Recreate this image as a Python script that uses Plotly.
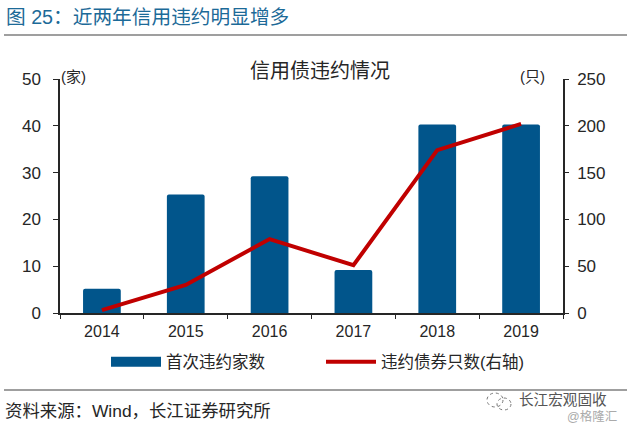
import plotly.graph_objects as go

years = ["2014", "2015", "2016", "2017", "2018", "2019"]
first_defaults = [5.2, 25.3, 29.2, 9.2, 40.3, 40.3]
defaulted_bonds = [3, 30, 79, 51, 174, 202]
left_ticks = [0, 10, 20, 30, 40, 50]
right_ticks = [0, 50, 100, 150, 200, 250]

W, H = 628, 427
L, R, T, B = 60, 563, 79, 313
FONT = "Liberation Sans, Noto Sans CJK SC, sans-serif"
INK = "#262626"

def px(x): return (x - L) / (R - L)
def py(y): return (B - y) / (B - T)

fig = go.Figure()
fig.add_bar(x=years, y=first_defaults, name="首次违约家数", marker=dict(color="#01558b", line=dict(width=0)),
            width=0.45, showlegend=False)
fig.add_scatter(x=[None], y=[None], mode="lines", name="首次违约家数",
                line=dict(color="#01558b", width=14))
fig.add_scatter(x=years, y=defaulted_bonds, yaxis="y2", mode="lines", name="违约债券只数(右轴)",
                line=dict(color="#c00000", width=4))

def txt(x, y, s, size, color=INK, anchor="left"):
    fig.add_annotation(x=px(x), y=py(y), xref="paper", yref="paper", text=s, showarrow=False,
                       xanchor=anchor, yanchor="middle", font=dict(size=size, color=color, family=FONT),
                       borderpad=0, borderwidth=0)

txt(6, 17, "图 25：近两年信用违约明显增多", 19.7, "#1c6a98")
txt(320, 71, "信用债违约情况", 20, INK, "center")
txt(61, 76, "(家)", 15)
txt(520, 76, "(只)", 15)
txt(5, 411, "资料来源：Wind，长江证券研究所", 17.4)
txt(519, 400, "长江宏观固收", 14.6, "#555555")
txt(567, 416, "@格隆汇", 12.5, "#aaaaaa")

for y0 in (35, 390):
    fig.add_shape(type="line", xref="paper", yref="paper", x0=px(4), x1=px(W - 1), y0=py(y0), y1=py(y0),
                  line=dict(color="#404040", width=1.2), layer="above")

# small watermark icon: two dotted bubbles
for x0, y0, x1, y1 in [(487, 393, 503, 407), (497, 398, 511, 410)]:
    fig.add_shape(type="circle", xref="paper", yref="paper", x0=px(x0), x1=px(x1), y0=py(y0), y1=py(y1),
                  line=dict(color="#777777", width=1, dash="dot"), fillcolor="rgba(255,255,255,0)", layer="above")

fig.update_layout(
    width=W, height=H, margin=dict(l=L, r=W - R, t=T, b=H - B, autoexpand=False),
    paper_bgcolor="white", plot_bgcolor="white", barcornerradius=2,
    font=dict(family=FONT, size=16, color=INK),
    legend=dict(orientation="h", x=px(106), y=py(362), xanchor="left", yanchor="middle",
                itemwidth=50, entrywidth=150, entrywidthmode="pixels", font=dict(size=16.5, color=INK, family=FONT),
                bgcolor="rgba(0,0,0,0)", itemclick=False, traceorder="normal"),
    xaxis=dict(type="category", categoryorder="array", categoryarray=years, showgrid=False,
               showline=True, linecolor="#262626", linewidth=1.5, ticks="outside", ticklen=4,
               tickcolor="#262626", tickwidth=1.2, tickson="boundaries", tickfont=dict(size=16, color=INK),
               ticklabelstandoff=3),
    yaxis=dict(range=[0, 50], tickvals=left_ticks, showgrid=False, zeroline=False, showline=True,
               linecolor="#262626", linewidth=1.5, ticks="outside", ticklen=5, tickcolor="#262626",
               tickwidth=1.2, tickfont=dict(size=17, color=INK), ticklabelstandoff=9),
    yaxis2=dict(range=[0, 250], tickvals=right_ticks, overlaying="y", side="right", showgrid=False,
                zeroline=False, showline=True, linecolor="#262626", linewidth=1.5, ticks="outside",
                ticklen=4, tickcolor="#262626", tickwidth=1.2, tickfont=dict(size=17, color=INK), ticklabelstandoff=5),
)
fig.write_html("out.html", config={"displayModeBar": False}, post_script="document.body.style.margin='0';")
